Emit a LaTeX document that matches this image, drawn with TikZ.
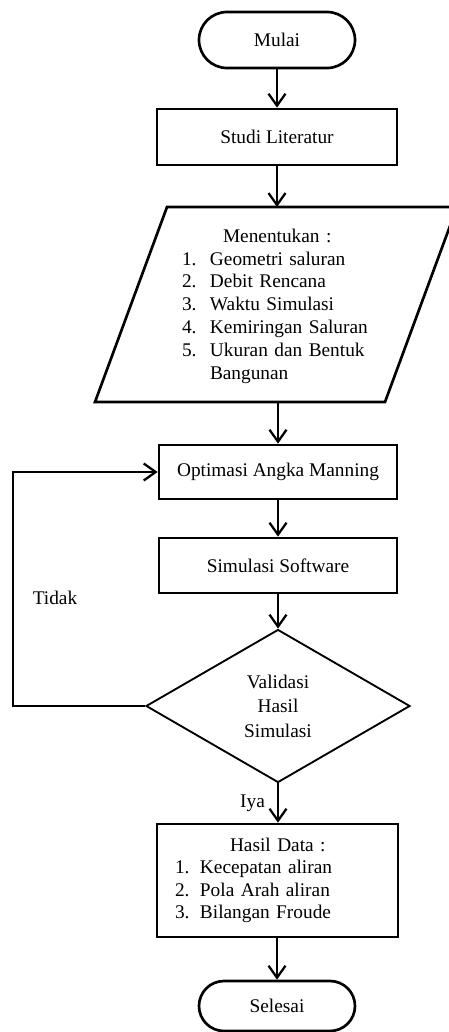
\documentclass[tikz,border=0pt]{standalone}
\usepackage{fontspec}
\setmainfont{Liberation Serif}
\usetikzlibrary{arrows.meta,shapes.geometric}
\begin{document}
\begin{tikzpicture}[x=0.75pt,y=-0.75pt,
  font=\fontsize{14.5}{17.1}\selectfont,
  box/.style={draw, line width=2pt, inner sep=0pt, align=center},
  term/.style={draw, line width=2pt, inner sep=0pt, minimum width=117pt},
  arr/.style={line width=1.7pt, -{Straight Barb[length=9pt,width=12.75pt]}}]
\useasboundingbox (0,0) rectangle (449,1032);
\fill[white] (0,0) rectangle (449,1032);
% terminals and boxes
\node[term, minimum height=42pt, rounded corners=21pt] (mulai) at (277,40) {Mulai};
\node[box, minimum width=180pt, minimum height=42pt] (studi) at (277,137) {Studi Literatur};
% parallelogram
\coordinate (ptop) at (277,207);
\coordinate (pbot) at (278,402);
\draw[line width=2pt, line join=miter] (95,402) -- (385,402) -- (457,207) -- (167,207) -- cycle;
\node[text width=141pt, align=left, inner sep=0pt] (param) at (276,306)
  {\hspace*{30.75pt}Menentukan :\\
   \makebox[21pt][l]{1.}Geometri saluran\\
   \makebox[21pt][l]{2.}Debit Rencana\\
   \makebox[21pt][l]{3.}Waktu Simulasi\\
   \makebox[21pt][l]{4.}Kemiringan Saluran\\
   \makebox[21pt][l]{5.}Ukuran dan Bentuk\\
   \hspace*{21pt}Bangunan};
\node[box, minimum width=178.5pt, minimum height=40.5pt] (opt) at (278,472) {Optimasi Angka Manning};
\node[box, minimum width=178.5pt, minimum height=41.25pt] (sim) at (278,565.5) {Simulasi Software};
\node[draw, diamond, line width=1.4pt, minimum width=198pt, minimum height=114.75pt,
      inner sep=0pt, align=center, font=\fontsize{14.5}{18.4}\selectfont] (val) at (278,706)
  {Validasi\\Hasil\\Simulasi};
\node[box, minimum width=180.75pt, minimum height=84.75pt, text width=153.75pt, align=left,
      font=\fontsize{14.5}{16.9}\selectfont] (hasil) at (277.5,880.5)
  {\hspace*{41.25pt}Hasil Data :\\
   \makebox[18.75pt][l]{1.}Kecepatan aliran\\
   \makebox[18.75pt][l]{2.}Pola Arah aliran\\
   \makebox[18.75pt][l]{3.}Bilangan Froude};
\node[term, minimum height=37.5pt, rounded corners=18.75pt] (selesai) at (277,1006) {Selesai};
% connectors
\draw[arr] (mulai.south) -- (studi.north);
\draw[arr] (studi.south) -- (ptop);
\draw[arr] (pbot) -- (opt.north);
\draw[arr] (opt.south) -- (sim.north);
\draw[arr] (sim.south) -- (val.north);
\draw[arr] (val.south) -- node[midway, left=9pt, inner sep=0pt] (iya) {Iya} (val.south |- hasil.north);
\draw[arr] (selesai.north |- hasil.south) -- (selesai.north);
\coordinate (lc) at (13,706);
\draw[arr] (val.west) -- (lc) |- (opt.west);
\node (tidak) at (55,598) {Tidak};
\end{tikzpicture}
\end{document}
